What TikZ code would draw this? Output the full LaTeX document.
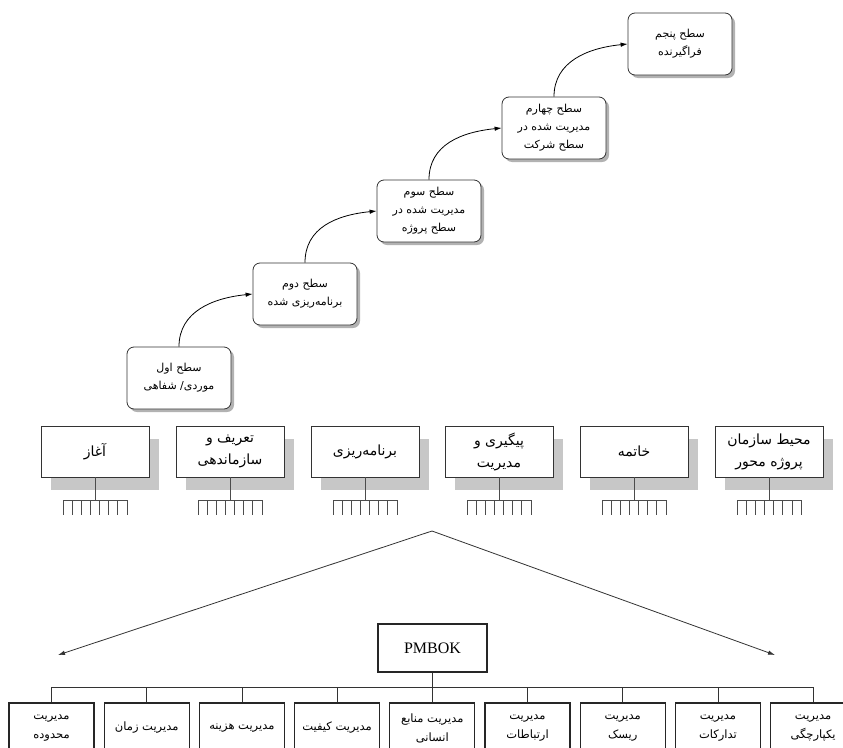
\documentclass[tikz,border=0pt]{standalone}
\usepackage{fontspec}
\setmainfont{Liberation Serif}
\newfontfamily\farsi[Script=Arabic]{DejaVu Sans}
\TeXXeTstate=1
\usepackage{tikz}
\usetikzlibrary{arrows,arrows.meta,shapes,positioning,shadows,calc}
\newcommand{\fa}[1]{{\farsi\beginR #1\endR}}

\begin{document}
\begin{tikzpicture}[x=1pt, y=-1pt, line width=0.8pt, >={Latex[length=7pt,width=4.5pt]},
    levelbox/.style={draw=black!80, fill=white, rounded corners=7pt, minimum width=104pt, minimum height=62pt, align=center,
        font=\fontsize{11}{18}\selectfont, drop shadow={shadow xshift=3pt, shadow yshift=-3pt, fill=black!30, opacity=1}},
    phasebox/.style={draw=black!80, fill=white, minimum width=108pt, minimum height=51pt, align=center,
        font=\fontsize{14}{22}\selectfont, drop shadow={shadow xshift=10pt, shadow yshift=-13pt, fill=black!22, opacity=1}},
    areabox/.style={draw=black!85, fill=white, line width=1.3pt, minimum width=85pt, minimum height=50pt, align=center,
        font=\fontsize{11.5}{19}\selectfont}]
    \useasboundingbox (0,0) rectangle (843,747);

    % Maturity levels
    \node[levelbox] (l1) at (179,378) {\fa{سطح اول}\\\fa{موردی/ شفاهی}};
    \node[levelbox] (l2) at (305,294) {\fa{سطح دوم}\\\fa{برنامه‌ریزی شده}};
    \node[levelbox] (l3) at (429,211) {\fa{سطح سوم}\\\fa{مدیریت شده در}\\\fa{سطح پروژه}};
    \node[levelbox] (l4) at (554,128) {\fa{سطح چهارم}\\\fa{مدیریت شده در}\\\fa{سطح شرکت}};
    \node[levelbox] (l5) at (680,44) {\fa{سطح پنجم}\\\fa{فراگیرنده}};

    % Steps between levels
    \foreach \a/\b in {l1/l2, l2/l3, l3/l4, l4/l5}
        \draw[->, line width=0.8pt] (\a.north) .. controls +(0,-35) and +(-40,4) .. (\b.west);

    % Phases
    \node[phasebox] (p1) at (95,451.5) {\fa{آغاز}};
    \node[phasebox] (p2) at (230,451.5) {\fa{تعریف و}\\\fa{سازماندهی}};
    \node[phasebox] (p3) at (365,451.5) {\fa{برنامه‌ریزی}};
    \node[phasebox] (p4) at (499,451.5) {\fa{پیگیری و}\\\fa{مدیریت}};
    \node[phasebox] (p5) at (634,451.5) {\fa{خاتمه}};
    \node[phasebox] (p6) at (769,451.5) {\fa{محیط سازمان}\\\fa{پروژه محور}};

    % Combs under the phases
    \foreach \i in {1,...,6}{
        \draw[black!70, line width=0.7pt] (p\i.south) -- ++(0,23) coordinate (c\i);
        \draw[black!70, line width=0.7pt] ($(c\i)+(-32,0)$) -- ($(c\i)+(32,0)$);
        \foreach \k in {0,...,7}
            \draw[black!70, line width=0.7pt] ($(c\i)+(-32+\k*9.14,0)$) -- ++(0,15);
    }

    % Spread to both sides
    \coordinate (apex) at (432,531);
    \coordinate (lefttip) at (58,655);
    \coordinate (righttip) at (775,655);
    \draw[->, black!80, line width=0.8pt] (apex) -- (lefttip);
    \draw[->, black!80, line width=0.8pt] (apex) -- (righttip);

    % PMBOK and knowledge areas
    \node[draw=black!85, line width=1.3pt, minimum width=109pt, minimum height=48pt, font=\fontsize{16}{16}\selectfont] (pmbok) at (432.5,648) {PMBOK};
    \node[areabox] (a1) at (51.5,728) {\fa{مدیریت}\\\fa{محدوده}};
    \node[areabox] (a2) at (146.7,728) {\fa{مدیریت زمان}};
    \node[areabox] (a3) at (241.9,728) {\fa{مدیریت هزینه}};
    \node[areabox] (a4) at (337.1,728) {\fa{مدیریت کیفیت}};
    \node[areabox] (a5) at (432.3,728) {\fa{مدیریت منابع}\\\fa{انسانی}};
    \node[areabox] (a6) at (527.5,728) {\fa{مدیریت}\\\fa{ارتباطات}};
    \node[areabox] (a7) at (622.7,728) {\fa{مدیریت}\\\fa{ریسک}};
    \node[areabox] (a8) at (717.9,728) {\fa{مدیریت}\\\fa{تدارکات}};
    \node[areabox] (a9) at (813.1,728) {\fa{مدیریت}\\\fa{یکپارچگی}};

    \coordinate (bus) at (432.5,687);
    \draw[black!80] (pmbok.south) -- (bus);
    \foreach \i in {1,...,9}
        \draw[black!80] (a\i.north) |- (bus);
\end{tikzpicture}
\end{document}
